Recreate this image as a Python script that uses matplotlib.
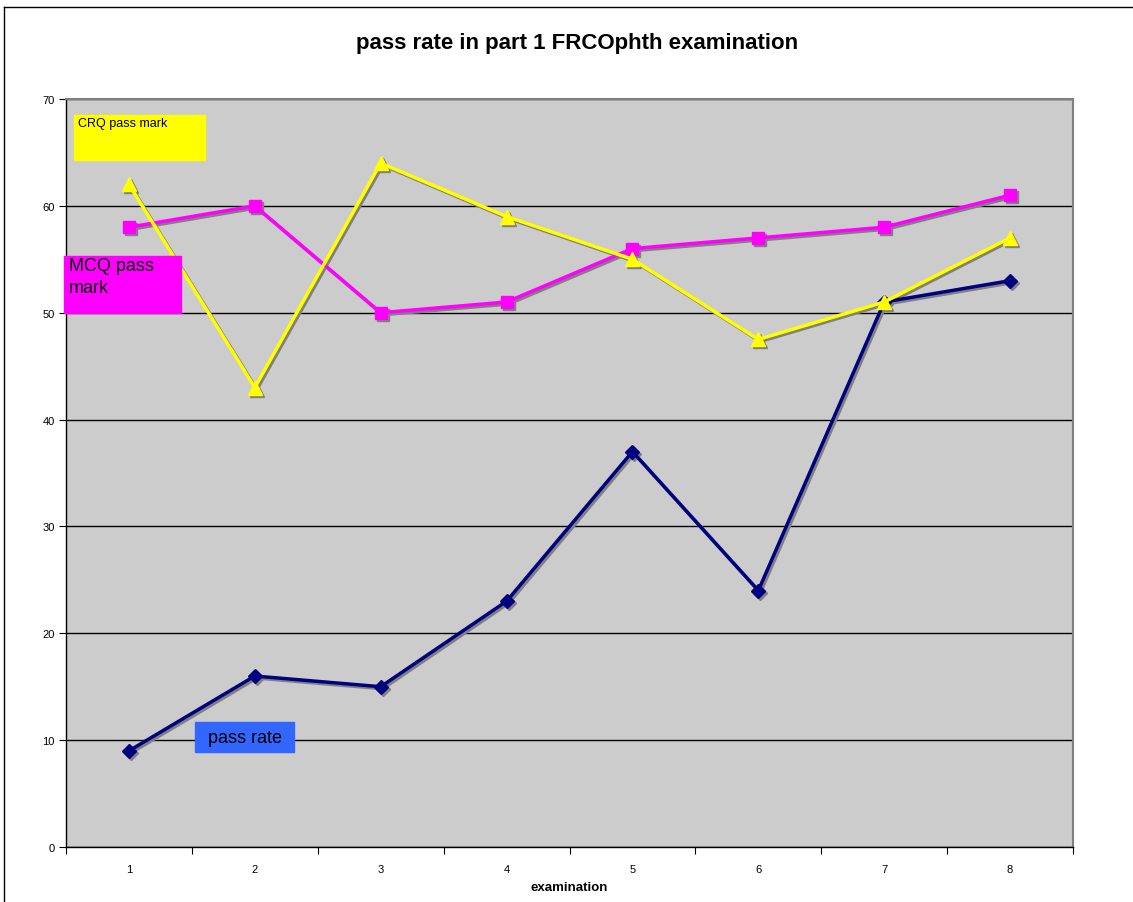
import matplotlib
matplotlib.use("Agg")
import matplotlib.pyplot as plt
import matplotlib.transforms as mtrans
from matplotlib.lines import Line2D

plt.rcParams['font.family'] = ['Liberation Sans', 'DejaVu Sans']

# data
exams = [1, 2, 3, 4, 5, 6, 7, 8]
pass_rate = [9, 16, 15, 23, 37, 24, 51, 53]
mcq_mark = [58, 60, 50, 51, 56, 57, 58, 61]
crq_mark = [62, 43, 64, 59, 55, 47.5, 51, 57]

W, H = 1133, 903
fig = plt.figure(figsize=(W / 100, H / 100), dpi=100)
fig.patch.set_facecolor('white')

# outer chart border (top and left visible)
fig.add_artist(Line2D([4 / W, 4 / W], [0, 1 - 8 / H], color='black', lw=1, transform=fig.transFigure))
fig.add_artist(Line2D([4 / W, 1], [1 - 8 / H, 1 - 8 / H], color='black', lw=1, transform=fig.transFigure))

ax = fig.add_axes([66 / W, 1 - 848 / H, (1073 - 66) / W, (848 - 100) / H])
ax.set_facecolor('#cccccc')

# gray drop shadow under each series, then the series itself
shadow_tr = mtrans.offset_copy(ax.transData, fig=fig, x=2, y=-2, units='dots')
series = [
    (pass_rate, '#000080', 'D', 7, 4),
    (mcq_mark, '#ff00ff', 's', 9, 3),
    (crq_mark, '#ffff00', '^', 10, 5),
]
for vals, col, mk, ms, z in series:
    ax.plot(exams, vals, color='#808080', lw=2.5, marker=mk, ms=ms, mec='#808080',
            transform=shadow_tr, zorder=2)
    ax.plot(exams, vals, color=col, lw=2.5, marker=mk, ms=ms, mec=col, zorder=z)

ax.set_xlim(0.5, 8.5)
ax.set_ylim(0, 70)
ax.set_yticks(range(0, 71, 10))
ax.yaxis.grid(True, color='black', lw=1)
ax.set_axisbelow(True)

# category axis: ticks at boundaries, labels at centres
ax.set_xticks([i + 0.5 for i in range(0, 9)])
ax.set_xticklabels([])
ax.set_xticks(exams, minor=True)
ax.set_xticklabels([str(e) for e in exams], minor=True)
ax.tick_params(axis='x', which='minor', length=0, pad=12, labelsize=8)
ax.tick_params(axis='x', which='major', length=5, direction='out', color='black')
ax.tick_params(axis='y', length=5, direction='out', labelsize=8, pad=3)

for s in ['top', 'right']:
    ax.spines[s].set_color('#808080')
    ax.spines[s].set_linewidth(1.5)
for s in ['left', 'bottom']:
    ax.spines[s].set_color('black')
    ax.spines[s].set_linewidth(1)

ax.set_xlabel('examination', fontsize=9.5, fontweight='bold', labelpad=5)
fig.text(577 / W, 1 - 43 / H, 'pass rate in part 1 FRCOphth examination',
         ha='center', va='center', fontsize=16, fontweight='bold')

# labels in coloured boxes
fig.patches.append(plt.Rectangle((74 / W, 1 - 161 / H), 131 / W, 45 / H, color='#ffff00',
                                 transform=fig.transFigure, zorder=10))
fig.text(78 / W, 1 - 118 / H, 'CRQ pass mark', ha='left', va='top', fontsize=9, zorder=11)

fig.patches.append(plt.Rectangle((64 / W, 1 - 314 / H), 117 / W, 57 / H, color='#ff00ff',
                                 transform=fig.transFigure, zorder=10))
fig.text(69 / W, 1 - 258 / H, 'MCQ pass\nmark', ha='left', va='top', fontsize=13,
         linespacing=1.4, zorder=11)

fig.patches.append(plt.Rectangle((195 / W, 1 - 753 / H), 99 / W, 30 / H, color='#3366ff',
                                 transform=fig.transFigure, zorder=10))
fig.text(245 / W, 1 - 739 / H, 'pass rate', ha='center', va='center', fontsize=13, zorder=11)

fig.savefig('out.png', dpi=100)
